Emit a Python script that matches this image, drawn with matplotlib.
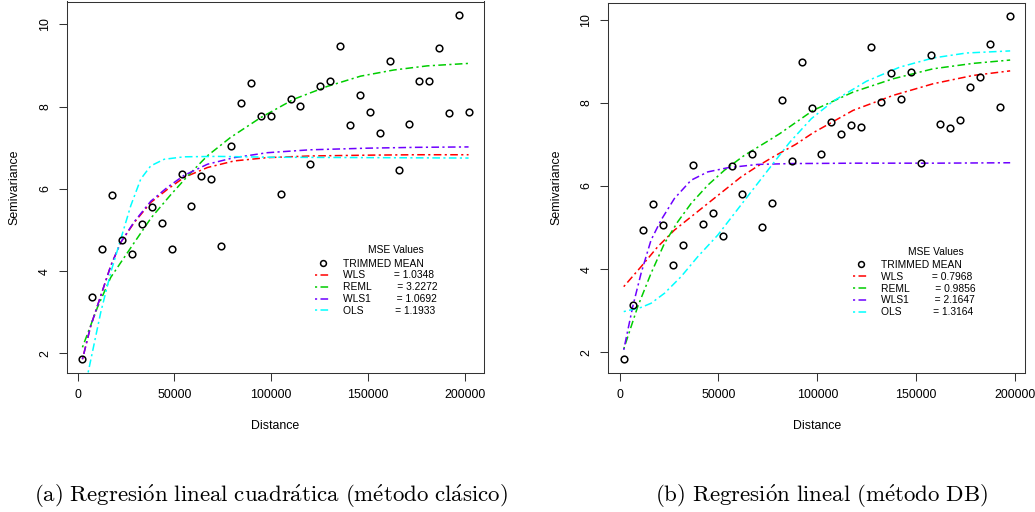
#!/usr/bin/env python3
# -*- coding: utf-8 -*-
"""
Semivariogram fits, two panels: points = trimmed mean, lines = fitted models
"""

import matplotlib
matplotlib.use('Agg')
import numpy as np
import matplotlib.pyplot as plt
from matplotlib.lines import Line2D

plt.rcParams['font.family'] = ['Liberation Sans', 'DejaVu Sans']
plt.rcParams['mathtext.fontset'] = 'cm'

# ------------------------------  DATA  ----------------------------------
# (a) clasico: empirical semivariance
DIST_A = [2430, 7600, 12770, 17790, 22960, 28130, 33300, 38470, 43640, 48810,
          53780, 58790, 63960, 69130, 74140, 79320, 84290, 89460, 94470, 99640,
          104810, 109980, 114990, 120160, 125330, 130300, 135470, 140640, 145650, 150820,
          155990, 161160, 166170, 171350, 176520, 181480, 186650, 191660, 196830, 202000]
SEMI_A = [1.86, 3.38, 4.53, 5.85, 4.75, 4.41, 5.15, 5.56, 5.17, 4.55,
          6.37, 5.59, 6.32, 6.24, 4.62, 7.04, 8.08, 8.58, 7.77, 7.77,
          5.87, 8.18, 8.01, 6.61, 8.51, 8.63, 9.48, 7.55, 8.29, 7.86,
          7.36, 9.11, 6.47, 7.57, 8.63, 8.63, 9.42, 7.85, 10.22, 7.88]

# (a) fitted curves
WLS_A_X = [2430, 6720, 11890, 17060, 22230, 29160, 37740, 46380, 55010, 67070,
           80870, 98080, 120000, 150000, 175000, 202000]
WLS_A_Y = [1.86, 2.67, 3.40, 4.13, 4.70, 5.18, 5.67, 5.99, 6.28, 6.52,
           6.68, 6.76, 6.80, 6.82, 6.83, 6.83]
REML_A_X = [2430, 10190, 17060, 28130, 38000, 47930, 56570, 66900, 78960, 94470,
            111700, 128940, 146170, 163400, 180640, 202000]
REML_A_Y = [2.15, 3.12, 3.85, 4.62, 5.30, 5.85, 6.30, 6.80, 7.25, 7.73,
            8.18, 8.49, 8.74, 8.89, 8.99, 9.05]
WLS1_A_X = [2430, 6720, 11890, 17060, 22230, 29160, 37740, 46380, 55010, 67070,
            80870, 98080, 120000, 150000, 175000, 202000]
WLS1_A_Y = [1.86, 2.67, 3.40, 4.13, 4.70, 5.20, 5.70, 6.04, 6.33, 6.60,
            6.76, 6.88, 6.95, 6.99, 7.01, 7.02]
OLS_A_X = [5380, 11890, 17060, 22230, 27400, 32570, 37740, 44670, 55010, 72230,
           100000, 150000, 202000]
OLS_A_Y = [1.54, 3.00, 3.97, 4.78, 5.59, 6.24, 6.56, 6.72, 6.78, 6.79,
           6.77, 6.76, 6.75]
MSE_A = ['1.0348', '3.2272', '1.0692', '1.1933']

# (b) DB
DIST_B = [2030, 6940, 12000, 16880, 21930, 27000, 32060, 37120, 42180, 47090,
          52150, 57060, 62130, 67190, 72050, 77110, 82180, 87090, 92150, 97220,
          102130, 107190, 112250, 117320, 122380, 127270, 132330, 137390, 142300, 147370,
          152280, 157340, 162200, 167270, 172180, 177240, 182300, 187210, 192280, 197340]
SEMI_B = [1.84, 3.15, 4.95, 5.56, 5.07, 4.10, 4.58, 6.50, 5.08, 5.34,
          4.81, 6.49, 5.81, 6.76, 5.02, 5.58, 8.07, 6.61, 8.99, 7.87,
          6.78, 7.54, 7.25, 7.46, 7.42, 9.34, 8.02, 8.73, 8.09, 8.74,
          6.56, 9.15, 7.50, 7.39, 7.59, 8.37, 8.63, 9.41, 7.90, 10.08]

WLS_B_X = [2030, 10800, 19240, 27680, 36120, 44560, 53010, 61450, 69870, 78330,
           89000, 97890, 118140, 138400, 158650, 178910, 197640]
WLS_B_Y = [3.58, 4.06, 4.54, 4.94, 5.26, 5.58, 5.90, 6.22, 6.48, 6.72,
           7.00, 7.28, 7.82, 8.18, 8.46, 8.66, 8.77]
REML_B_X = [2030, 9110, 15850, 22630, 29370, 36120, 44560, 53010, 63140, 74940,
            81010, 97890, 118140, 138400, 158650, 178910, 197640]
REML_B_Y = [2.08, 3.10, 3.90, 4.62, 5.14, 5.58, 6.02, 6.38, 6.74, 7.08,
            7.26, 7.82, 8.26, 8.58, 8.82, 8.95, 9.03]
WLS1_B_X = [2030, 6580, 10800, 15850, 20910, 27680, 36120, 44560, 54680, 69870,
            86740, 120000, 160000, 197640]
WLS1_B_Y = [2.06, 3.10, 3.90, 4.70, 5.18, 5.70, 6.14, 6.34, 6.44, 6.52,
            6.54, 6.55, 6.55, 6.56]
OLS_B_X = [2030, 10800, 15850, 22630, 31050, 39490, 49620, 58060, 66500, 75000,
           86000, 97000, 108020, 124890, 141770, 158650, 175520, 197640]
OLS_B_Y = [2.98, 3.08, 3.18, 3.42, 3.82, 4.30, 4.82, 5.34, 5.86, 6.38,
           7.05, 7.62, 8.04, 8.52, 8.86, 9.08, 9.20, 9.25]
MSE_B = ['0.7968', '0.9856', '2.1647', '1.3164']

MODELS = ['WLS', 'REML', 'WLS1', 'OLS']
COLORS = ['#FF0000', '#00CD00', '#6E00FF', '#00FFFF']
SPACES = [10, 9, 9, 11]
X_TICKS = [0, 50000, 100000, 150000, 200000]
Y_TICKS = [2, 4, 6, 8, 10]
CAP_A = r'$\mathrm{(a)\ Regresi\acute{o}n\ lineal\ cuadr\acute{a}tica\ (m\acute{e}todo\ cl\acute{a}sico)}$'
CAP_B = r'$\mathrm{(b)\ Regresi\acute{o}n\ lineal\ (m\acute{e}todo\ DB)}$'

DASH = (1.4, 2.2, 5.0, 2.2)
GREY = '#333333'


# ------------------------------  FUNCTIONS  -----------------------------
def panel(ax, dist, semi, curves, mse, leg_xy, title_xy):
    dist = np.asarray(dist)
    semi = np.asarray(semi)
    # R style 4% padding
    px = 0.04 * (dist.max() - dist.min())
    py = 0.04 * (semi.max() - semi.min())
    ax.set_xlim(dist.min() - px, dist.max() + px)
    ax.set_ylim(semi.min() - py, semi.max() + py)

    ax.plot(dist, semi, 'o', ms=4.8, mfc='none', mec='black', mew=1.1, zorder=3)
    for (cx, cy), col in zip(curves, COLORS):
        ax.plot(cx, cy, color=col, lw=1.1, dashes=DASH, zorder=2)

    ax.set_xticks(X_TICKS)
    ax.set_xticklabels([str(t) for t in X_TICKS])
    ax.set_yticks(Y_TICKS)
    ax.tick_params(direction='out', length=5.5, width=0.75, color=GREY,
                   labelsize=8.9, pad=6)
    for lab in ax.get_yticklabels():
        lab.set_rotation(90)
        lab.set_va('center')
    for sp in ax.spines.values():
        sp.set_color(GREY)
        sp.set_linewidth(0.75)

    ax.set_xlabel('Distance', fontsize=8.9)
    ax.set_ylabel('Semivariance', fontsize=8.9)
    ax.xaxis.set_label_coords(0.5, -0.144)
    ax.xaxis.label.set_va('center')
    ax.yaxis.set_label_coords(-0.125, 0.5)
    ax.yaxis.label.set_va('center')

    # legend
    handles = [Line2D([], [], ls='none', marker='o', ms=4.2, mfc='none',
                      mec='black', mew=1.1)]
    labels = ['TRIMMED MEAN']
    for name, col, v, ns in zip(MODELS, COLORS, mse, SPACES):
        handles.append(Line2D([], [], color=col, lw=1.1, dashes=DASH))
        labels.append(name + ' ' * ns + '= ' + v)
    ax.legend(handles, labels, loc='upper left', bbox_to_anchor=leg_xy,
              frameon=False, fontsize=7.4, handlelength=1.5, handletextpad=1.2,
              labelspacing=0.18, borderpad=0, borderaxespad=0)
    ax.text(title_xy[0], title_xy[1], 'MSE Values', transform=ax.transAxes,
            ha='center', va='center', fontsize=7.4)


# ------------------------------  MAIN BODY  -----------------------------
fig = plt.figure(figsize=(10.35, 5.12), dpi=100)
ax1 = fig.add_axes([67 / 1035, 1 - 373 / 512, 417 / 1035, 371.5 / 512])
ax2 = fig.add_axes([608.3 / 1035, 1 - 372.7 / 512, 416.7 / 1035, 370 / 512])

panel(ax1, DIST_A, SEMI_A,
      [(WLS_A_X, WLS_A_Y), (REML_A_X, REML_A_Y),
       (WLS1_A_X, WLS1_A_Y), (OLS_A_X, OLS_A_Y)],
      MSE_A, (0.595, 0.308), (0.789, 0.331))
panel(ax2, DIST_B, SEMI_B,
      [(WLS_B_X, WLS_B_Y), (REML_B_X, REML_B_Y),
       (WLS1_B_X, WLS1_B_Y), (OLS_B_X, OLS_B_Y)],
      MSE_B, (0.588, 0.305), (0.785, 0.327))

fig.text(271.5 / 1035, 1 - 496 / 512, CAP_A, ha='center', va='center', fontsize=16.5)
fig.text(821.5 / 1035, 1 - 496 / 512, CAP_B, ha='center', va='center', fontsize=16.5)

plt.savefig('out.png', dpi=100)
print('Done!')
# ------------------------------ END -----------------------------------
